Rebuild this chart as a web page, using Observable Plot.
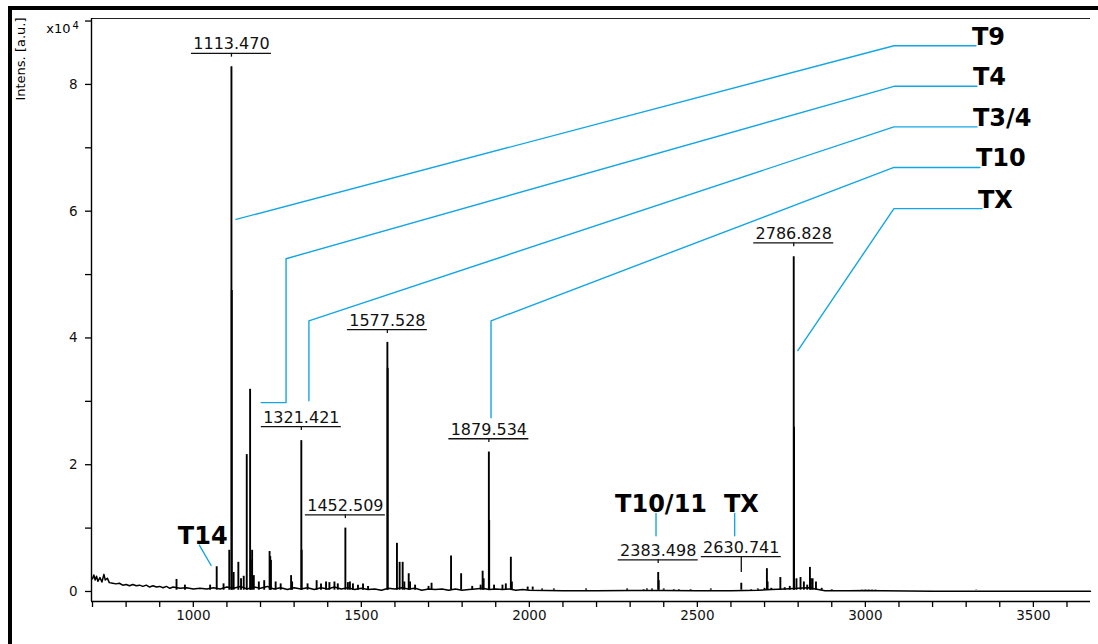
<!DOCTYPE html>
<html><head><meta charset="utf-8">
<script src="https://cdn.jsdelivr.net/npm/d3@7"></script>
<script src="https://cdn.jsdelivr.net/npm/@observablehq/plot@0.6"></script>
<style>
html,body{margin:0;padding:0;background:#fff;}
#wrap{position:relative;width:1098px;height:644px;overflow:hidden;background:#fff;}
#wrap svg{display:block;position:absolute;left:0;top:0;}
.bl{position:absolute;background:#000;}
</style></head><body>
<div id="wrap"></div>
<script>
// ---- spectrum peaks (m/z, intensity x10^4) ----
const peakMz = [950,975,1050,1069.6,1090,1107,1113.47,1114.5,1120,1134,1142,1150,1159,1169,1171,1175,1180,1195,1211,1227,1229,1231,1245,1260,1291,1294,
  1321.421,1322.4,1340,1367,1380,1395,1405,1420,1430,1452.509,1460,1466,1475,1490,1505,1520,
  1577.528,1578.5,1606,1614,1623,1628,1641,1645,1660,1700,1709,1767,1797,1830,1855,1861,1864,1879.534,1880.5,1895,1920,1930,1945,1948,1995,2010,
  2038,2073,2169,2291,2340,2350,2365,2383.498,2385,2400,2430,2445,2480,2540,2630.741,2660,2680,2700,2707,2709,2720,2747,2760,2775,
  2786.828,2787.8,2795,2807,2817,2827,2835,2838,2843,2853,2870,2900,2990,3000,3010,3020,3030,3060,3080,3110,3140,3170,3210,3250,3300,3330,3360,3410,3460,3500,3520];
const peakInt = [0.19,0.1,0.1,0.39,0.12,0.65,8.28,4.75,0.3,0.46,0.2,0.24,2.16,3.19,0.5,0.65,0.25,0.15,0.17,0.63,0.55,0.49,0.15,0.12,0.25,0.15,
  2.38,0.65,0.12,0.17,0.12,0.15,0.14,0.15,0.12,1.0,0.14,0.15,0.12,0.1,0.12,0.08,
  3.93,3.52,0.76,0.46,0.46,0.15,0.28,0.15,0.1,0.08,0.13,0.56,0.28,0.08,0.1,0.32,0.2,2.2,1.12,0.1,0.1,0.12,0.54,0.15,0.07,0.07,
  0.04,0.04,0.04,0.04,0.03,0.04,0.04,0.3,0.17,0.04,0.03,0.03,0.03,0.04,0.13,0.03,0.04,0.05,0.36,0.15,0.05,0.22,0.06,0.08,
  5.28,2.59,0.2,0.22,0.15,0.1,0.38,0.2,0.2,0.15,0.05,0.03,0.025,0.025,0.025,0.025,0.025,0.02,0.02,0.02,0.02,0.02,0.02,0.02,0.02,0.025,0.02,0.02,0.02,0.02,0.02];

// ---- baseline trace ----
const baseMz = [700,704,708,712,716,722,728,734,738,744,750,760,770,780,790,800,810,820,830,840,850,860,870,880,890,900,910,920,930,940,960,980,
  1000,1020,1040,1060,1080,1100,1120,1140,1160,1180,1200,1220,1240,1260,1280,1300,1320,1340,1360,1380,1400,1420,1440,1460,1480,1500,1520,1540,1560,1580,
  1600,1620,1640,1660,1680,1700,1720,1740,1760,1780,1800,1820,1840,1860,1880,1900,1920,1940,1960,1980,2000,2050,2100,2200,2300,2400,2500,2600,2680,2720,
  2760,2800,2830,2860,2880,2950,3000,3050,3200,3670];
const baseInt = [0.20,0.26,0.18,0.24,0.16,0.22,0.15,0.27,0.18,0.21,0.14,0.13,0.12,0.13,0.10,0.11,0.09,0.11,0.09,0.10,0.08,0.10,0.07,0.09,0.07,0.08,0.06,0.08,0.05,0.07,0.05,0.06,
  0.04,0.05,0.04,0.06,0.04,0.07,0.05,0.08,0.04,0.07,0.05,0.08,0.04,0.06,0.03,0.06,0.04,0.06,0.03,0.06,0.04,0.07,0.04,0.06,0.03,0.05,0.03,0.04,0.02,0.05,
  0.04,0.06,0.04,0.05,0.02,0.04,0.03,0.04,0.02,0.04,0.02,0.03,0.04,0.05,0.03,0.04,0.03,0.04,0.02,0.03,0.02,0.015,0.01,0.01,0.015,0.015,0.01,0.01,0.02,0.03,
  0.04,0.05,0.06,0.03,0.01,0.01,0.015,0.01,0.005,0.005];

// ---- peak value labels ----
const lblMz = [1113.470,1321.421,1452.509,1577.528,1879.534,2383.498,2630.741,2786.828];
const lblText = ["1113.470","1321.421","1452.509","1577.528","1879.534","2383.498","2630.741","2786.828"];
const lblY = [8.49,2.60,1.21,4.13,2.41,0.50,0.55,5.50];
const lblTickEnd = [8.43,2.54,1.15,4.07,2.35,0.44,0.30,5.44];

// ---- fragment annotations (right side callouts) ----
const annoName = ["T9","T4","T3/4","T10","TX"];
const annoMz = [[1127,3085,3329],[1202,1276,1276,3085,3332],[1344,1344,3085,3332],[1886,1886,3085,3341],[2799,3085,3347]];
const annoInt = [[5.87,8.61,8.61],[2.98,2.98,5.25,7.97,7.97],[3.01,4.27,7.33,7.33],[2.74,4.27,6.69,6.69],[3.80,6.04,6.04]];

// ---- small callouts near the baseline ----
const smallName = ["T14","T10/11","TX"];
const smallTextMz = [1028,2392,2631];
const smallTextInt = [0.757,1.25,1.25];
const smallLineMz = [[1018,1053],[2377,2377],[2611,2611]];
const smallLineInt = [[0.73,0.41],[1.23,0.88],[1.23,0.88]];

// ---- axes ----
const xTicks = d3.range(700, 3700, 100);
const yTicks = [0,1,2,3,4,5,6,7,8,9];
const yLabel = "Intens. [a.u.]";

const peaks = peakMz.map((mz,i)=>({mz, v: peakInt[i]}));
const base = baseMz.map((mz,i)=>({mz, v: baseInt[i]}));
const labels = lblMz.map((mz,i)=>({mz, t: lblText[i], ly: lblY[i], te: lblTickEnd[i]}));
const annoPts = annoName.flatMap((n,i)=>annoMz[i].map((mz,j)=>({n, mz, v: annoInt[i][j]})));
const annoEnds = annoName.map((n,i)=>({n, mz: annoMz[i][annoMz[i].length-1], v: annoInt[i][annoInt[i].length-1]}));
const smallPts = smallName.flatMap((n,i)=>smallLineMz[i].map((mz,j)=>({n, mz, v: smallLineInt[i][j]})));
const smallTxt = smallName.map((n,i)=>({n, mz: smallTextMz[i], v: smallTextInt[i]}));

const BLUE = "#14a6e4";
const yMin = -0.158, yMax = 9.04;

const chart = Plot.plot({
  width: 1098, height: 644,
  marginLeft: 91, marginRight: 8, marginTop: 18, marginBottom: 43,
  x: {domain: [697, 3670], label: null},
  y: {domain: [yMin, yMax], label: null},
  style: {fontFamily: "'DejaVu Sans', sans-serif", fontSize: "13px", background: "transparent", color: "#000", overflow: "visible"},
  marks: [
    Plot.ruleY([yMax], {stroke: "#222", strokeWidth: 1}),
    Plot.ruleY([yMin], {stroke: "#000", strokeWidth: 1.4}),
    Plot.ruleX([697], {stroke: "#000", strokeWidth: 1.4}),
    Plot.axisX({ticks: xTicks, tickFormat: d => d % 500 === 0 ? String(d) : "", tickSize: 6, tickPadding: 3, strokeWidth: 1.3, fontSize: 13.5, fill: "#111"}),
    Plot.axisY({ticks: yTicks, tickFormat: d => (d % 2 === 0 && d < 9) ? String(d) : "", tickSize: 6, tickPadding: 8, strokeWidth: 1.3, fontSize: 13.5, fill: "#111"}),
    Plot.text([yLabel], {frameAnchor: "top-left", text: d => d, rotate: -90, textAnchor: "end", lineAnchor: "middle", dx: -71, dy: -1, fontSize: 13}),
    Plot.text(["x10"], {frameAnchor: "top-left", text: d => d, textAnchor: "end", lineAnchor: "bottom", dx: -21, dy: 14, fontSize: 13}),
    Plot.text(["4"], {frameAnchor: "top-left", text: d => d, textAnchor: "start", lineAnchor: "bottom", dx: -19, dy: 10, fontSize: 10}),
    Plot.line(base, {x: "mz", y: "v", stroke: "#000", strokeWidth: 1.5}),
    Plot.ruleX(peaks, {x: "mz", y1: 0.02, y2: "v", stroke: "#000", strokeWidth: 1.9}),
    Plot.ruleY(labels, {y: "ly", x1: d => d.mz - 119, x2: d => d.mz + 119, stroke: "#111", strokeWidth: 1.3}),
    Plot.ruleX(labels, {x: "mz", y1: "ly", y2: "te", stroke: "#111", strokeWidth: 1.3}),
    Plot.text(labels, {x: "mz", y: "ly", text: "t", lineAnchor: "bottom", dy: -4, fontSize: 16, fill: "#111"}),
    Plot.line(annoPts, {x: "mz", y: "v", z: "n", stroke: BLUE, strokeWidth: 1.4}),
    Plot.text(annoEnds, {x: "mz", y: "v", text: "n", textAnchor: "start", lineAnchor: "bottom", dx: -4, dy: -1, fontSize: 24, fontWeight: "bold", fill: "#000"}),
    Plot.line(smallPts, {x: "mz", y: "v", z: "n", stroke: BLUE, strokeWidth: 1.4}),
    Plot.text(smallTxt, {x: "mz", y: "v", text: "n", lineAnchor: "bottom", fontSize: 24, fontWeight: "bold", fill: "#000"})
  ]
});
const wrap = document.getElementById("wrap");
wrap.appendChild(chart);
const b1 = document.createElement("div"); b1.className = "bl"; b1.style.cssText = "left:8px;top:6px;width:4px;height:638px;";
const b2 = document.createElement("div"); b2.className = "bl"; b2.style.cssText = "left:8px;top:6px;width:1090px;height:4px;";
wrap.appendChild(b1); wrap.appendChild(b2);
</script>
</body></html>
